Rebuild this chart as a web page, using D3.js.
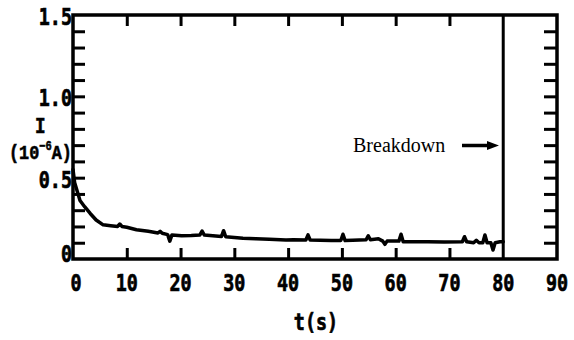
<!DOCTYPE html>
<html>
<head>
<meta charset="utf-8">
<script src="https://cdn.jsdelivr.net/npm/d3@7"></script>
<style>
  body { margin: 0; background: #fff; }
  svg { display: block; }
</style>
</head>
<body>
<div id="graph"></div>
<script>
// current vs time
var tValues = [0, 0.3, 1.3, 2.2, 3.2, 4.3, 5.6, 7, 8.3, 8.7,
  9.1, 10, 11.8, 14, 15.8, 16.2, 16.6, 17.6, 18, 18.4,
  20.2, 22, 23.6, 24, 24.4, 26, 27.6, 28, 28.4, 30,
  31.6, 34, 36.5, 39.6, 41, 43.3, 43.7, 44.1, 46, 48,
  49.8, 50.2, 50.6, 52, 54.5, 54.9, 55.3, 56.8, 57.6, 58,
  58.4, 60, 60.6, 61, 61.4, 63, 66, 69, 72.4, 72.8,
  73.2, 74.5, 75, 75.5, 76.2, 76.6, 77, 77.7, 78.1, 78.5,
  79.4, 80];
var iValues = [0.55, 0.47, 0.36, 0.32, 0.28, 0.24, 0.21, 0.205, 0.2, 0.215,
  0.2, 0.195, 0.18, 0.17, 0.16, 0.17, 0.158, 0.15, 0.11, 0.148,
  0.143, 0.145, 0.148, 0.172, 0.148, 0.143, 0.138, 0.174, 0.137, 0.132,
  0.127, 0.124, 0.121, 0.117, 0.118, 0.117, 0.148, 0.117, 0.116, 0.113,
  0.114, 0.152, 0.113, 0.115, 0.118, 0.143, 0.118, 0.125, 0.11, 0.09,
  0.11, 0.11, 0.11, 0.152, 0.106, 0.106, 0.106, 0.105, 0.106, 0.137,
  0.106, 0.1, 0.115, 0.1, 0.1, 0.148, 0.1, 0.1, 0.055, 0.1,
  0.106, 0.106];

var xTickLabels = [0, 10, 20, 30, 40, 50, 60, 70, 80, 90];
var xInnerTicks = [10, 20, 30, 40, 50, 60, 70];
var yTickLabels = [0, 0.5, 1.0, 1.5];
var yMinorTicks = [0.1, 0.2, 0.3, 0.4, 0.5, 0.6, 0.7, 0.8, 0.9, 1.0, 1.1, 1.2, 1.3, 1.4];
var breakdownT = 80;

var W = 574, H = 340;
var padL = 73, padR = 557, padT = 15, padB = 259;

var vis = d3.select("#graph")
            .append("svg")
            .attr("width", W).attr("height", H);

var x = d3.scaleLinear().domain([0, 90]).range([padL, padR]);
var y = d3.scaleLinear().domain([0, 1.5]).range([padB, padT]);

function styleAxis(g, w) {
  g.select(".domain").remove();
  g.selectAll(".tick line").attr("stroke", "#000").attr("stroke-width", w);
  g.selectAll(".tick text").remove();
}

// inward ticks on all four sides
vis.append("g").attr("transform", "translate(" + padL + ",0)")
   .call(d3.axisLeft(y).tickValues(yMinorTicks).tickSize(-12))
   .call(styleAxis, 3);
vis.append("g").attr("transform", "translate(" + padR + ",0)")
   .call(d3.axisRight(y).tickValues(yMinorTicks).tickSize(-13))
   .call(styleAxis, 3);
vis.append("g").attr("transform", "translate(0," + padB + ")")
   .call(d3.axisBottom(x).tickValues(xInnerTicks).tickSize(-11))
   .call(styleAxis, 3);
vis.append("g").attr("transform", "translate(0," + padT + ")")
   .call(d3.axisTop(x).tickValues(xInnerTicks).tickSize(-11))
   .call(styleAxis, 3);

// frame
vis.append("rect")
   .attr("x", padL).attr("y", padT)
   .attr("width", padR - padL).attr("height", padB - padT)
   .attr("fill", "none").attr("stroke", "#000").attr("stroke-width", 3.5);

// breakdown line
vis.append("line")
   .attr("x1", x(breakdownT)).attr("x2", x(breakdownT))
   .attr("y1", padT).attr("y2", padB)
   .attr("stroke", "#000").attr("stroke-width", 3);

// curve
var pts = tValues.map(function(t, i) { return [t, iValues[i]]; });
vis.append("path")
   .datum(pts)
   .attr("d", d3.line().x(function(d) { return x(d[0]); }).y(function(d) { return y(d[1]); }))
   .attr("fill", "none").attr("stroke", "#000")
   .attr("stroke-width", 3.5).attr("stroke-linejoin", "round").attr("stroke-linecap", "round");

// tick labels
var monoBold = "'DejaVu Sans Mono', monospace";
function heavy(sel) {
  sel.style("font-family", monoBold).style("font-weight", "bold").style("font-size", "23px")
     .attr("stroke", "#000").attr("stroke-width", 0.7);
}
vis.selectAll("text.xl")
   .data(xTickLabels)
   .enter()
   .append("text")
   .attr("class", "xl")
   .attr("transform", function(d) { return "translate(" + (x(d) + (d === 0 ? 3 : 0)) + ",291) scale(0.8,1)"; })
   .attr("text-anchor", "middle")
   .call(heavy)
   .text(function(d) { return d; });

vis.selectAll("text.yl")
   .data(yTickLabels)
   .enter()
   .append("text")
   .attr("class", "yl")
   .attr("transform", function(d) { return "translate(72," + Math.min(y(d) + 10, 262) + ") scale(0.8,1)"; })
   .attr("text-anchor", "end")
   .call(heavy)
   .text(function(d) { return d === 0 ? "0" : d.toFixed(1); });

// axis titles
vis.append("text")
   .attr("transform", "translate(316,330) scale(0.8,1)")
   .attr("text-anchor", "middle")
   .call(heavy)
   .text("t(s)");

var serifMono = "'Liberation Mono', monospace";
vis.append("text")
   .attr("transform", "translate(35,133) scale(0.8,1)")
   .style("font-family", serifMono).style("font-weight", "bold").style("font-size", "22px")
   .attr("stroke", "#000").attr("stroke-width", 0.6)
   .text("I");
var unit = vis.append("text")
   .attr("transform", "translate(9,159) scale(0.8,1)")
   .style("font-family", serifMono).style("font-weight", "bold").style("font-size", "21px")
   .attr("stroke", "#000").attr("stroke-width", 0.6);
unit.append("tspan").text("(10");
unit.append("tspan").attr("dy", -9).style("font-size", "13px").text("\u2212" + "6");
unit.append("tspan").attr("dy", 9).text("A)");

// annotation
vis.append("text")
   .attr("x", 353).attr("y", 152)
   .style("font-family", "'Liberation Serif', serif").style("font-size", "20px")
   .text("Breakdown");
vis.append("line")
   .attr("x1", 462).attr("x2", 489).attr("y1", 145.5).attr("y2", 145.5)
   .attr("stroke", "#000").attr("stroke-width", 3.5);
vis.append("path")
   .attr("d", "M487,141 L499,145.5 L487,150 Z")
   .attr("fill", "#000");
</script>
</body>
</html>
